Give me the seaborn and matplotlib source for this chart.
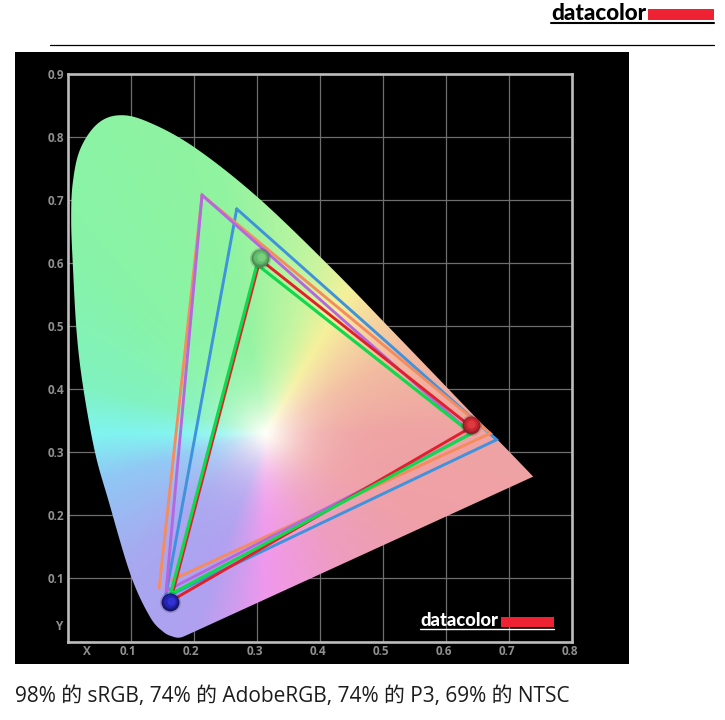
import matplotlib
matplotlib.use('Agg')
import matplotlib.pyplot as plt
from matplotlib.colors import to_rgb
from matplotlib.lines import Line2D
from matplotlib.patches import Polygon, Rectangle
from matplotlib.transforms import ScaledTranslation
import numpy as np
import seaborn as sns

W, H = 725, 720

# spectral locus
locus_x = [0.1886, 0.1780, 0.1674, 0.1515, 0.1304, 0.0998, 0.0644, 0.0433, 0.0247,
           0.0143, 0.0080, 0.0055, 0.0080, 0.0195, 0.0460, 0.0802, 0.1250, 0.1990, 0.2995, 0.4157,
           0.5125, 0.5752, 0.6270, 0.6658, 0.7000, 0.7380]
locus_y = [0.0100, 0.0062, 0.0075, 0.0154, 0.0392, 0.1054, 0.2243, 0.3000, 0.4020,
           0.4890, 0.6000, 0.6700, 0.7270, 0.7800, 0.8200, 0.8345, 0.8250, 0.7850, 0.7060, 0.5947,
           0.4950, 0.4300, 0.3760, 0.3360, 0.3010, 0.2615]

# gamut outlines
blue_x, blue_y = [0.268, 0.68, 0.155, 0.268], [0.686, 0.32, 0.07, 0.686]
orange_x, orange_y = [0.165, 0.67, 0.213, 0.145], [0.0975, 0.33, 0.708, 0.085]
purple_x, purple_y = [0.213, 0.64, 0.156, 0.213], [0.708, 0.33, 0.08, 0.708]
red_x, red_y = [0.305, 0.64, 0.163, 0.305], [0.606, 0.34, 0.064, 0.606]
green_x, green_y = [0.30, 0.64, 0.163, 0.30], [0.598, 0.33, 0.075, 0.598]

# primaries
ball_x = [0.6387, 0.3047, 0.1622]
ball_y = [0.3435, 0.608, 0.063]
ball_dark = ['#8a2028', '#4f8a55', '#14146a']
ball_edge = ['#aa232d', '#58a360', '#1c1c8e']
ball_mid = ['#c92632', '#62bd6c', '#2424b4']
ball_light = ['#dd3a3e', '#78cf7e', '#3232d4']

x_ticks = [0.1, 0.2, 0.3, 0.4, 0.5, 0.6, 0.7, 0.8]
y_ticks = [0.1, 0.2, 0.3, 0.4, 0.5, 0.6, 0.7, 0.8, 0.9]

# diagram colours around the white point
white_xy = (0.313, 0.33)
hue_angles = [-90, -60, -30, 0, 30, 48, 60, 75, 100, 135, 165, 180, 195, 225, 250, 270]
hue_colors = ['#F098EC', '#EE9CC0', '#EFA0A8', '#EFA3A3', '#F2BBA0', '#F5D8A0', '#F5F09A', '#C5F5A0',
              '#90F3A0', '#88F4A8', '#80F2C0', '#80F4F0', '#90C8F5', '#A8A8F0', '#B0A0F0', '#F098EC']

caption = '98% 的 sRGB, 74% 的 AdobeRGB, 74% 的 P3, 69% 的 NTSC'

sns.set_theme(style='white')
plt.rcParams['font.family'] = ['Open Sans', 'Noto Sans CJK TC', 'DejaVu Sans']


def fx(px):
    return px / W


def fy(py):
    return 1 - py / H


def smooth(xv, yv, n=16):
    # Catmull-Rom, only to draw the outline without corners
    p = np.column_stack([xv, yv])
    p = np.vstack([p[0], p, p[-1]])
    out = []
    for i in range(1, len(p) - 2):
        for u in np.linspace(0, 1, n, endpoint=False):
            out.append(0.5 * (2 * p[i] + (p[i + 1] - p[i - 1]) * u
                              + (2 * p[i - 1] - 5 * p[i] + 4 * p[i + 1] - p[i + 2]) * u ** 2
                              + (3 * p[i] - p[i - 1] - 3 * p[i + 1] + p[i + 2]) * u ** 3))
    out.append(p[-1])
    return np.array(out)


def logo(px_left, px_right, text_right, bar_top, bar_bottom, line_y, baseline, color, size, line_w):
    fig.text(fx(px_left), fy(baseline), 'datacolor', color=color, fontsize=size, fontweight='black',
             family='Lato', va='baseline', ha='left', zorder=10)
    fig.add_artist(Rectangle((fx(text_right), fy(bar_bottom)), fx(px_right - text_right),
                             (bar_bottom - bar_top) / H, color='#ee2233', lw=0, zorder=10))
    fig.add_artist(Line2D([fx(px_left), fx(px_right)], [fy(line_y), fy(line_y)], color=color, lw=line_w, zorder=10))


fig = plt.figure(figsize=(W / 100, H / 100), dpi=100, facecolor='white')

# black panel
fig.add_artist(Rectangle((fx(15), fy(664)), fx(614), 612 / H, color='black', lw=0, zorder=0))

ax = fig.add_axes([fx(67.7), fy(641.5), fx(572.3 - 67.7), (641.5 - 74) / H], facecolor='black', zorder=1)

# diagram fill
xs = np.linspace(0, 0.8, 800)
ys = np.linspace(0, 0.9, 900)
gx, gy = np.meshgrid(xs, ys)
dx, dy = gx - white_xy[0], gy - white_xy[1]
ang = np.degrees(np.arctan2(dy, dx))
ang[ang < -90] += 360
hue_rgb = np.array([to_rgb(c) for c in hue_colors])
img = np.dstack([np.interp(ang, hue_angles, hue_rgb[:, i]) for i in range(3)])
t = (1 - np.exp(-(np.hypot(dx, dy) / 0.06) ** 1.3))[..., None]
img = (1 - t) * np.array([1.0, 1.0, 0.97]) + t * img
im = ax.imshow(img, origin='lower', extent=(0, 0.8, 0, 0.9), aspect='auto', zorder=2, interpolation='bilinear')
im.set_clip_path(Polygon(smooth(locus_x, locus_y), closed=True, transform=ax.transData))

# gamut triangles
for lx, ly, col, lw in [(blue_x, blue_y, '#3f93dc', 2.1),
                        (orange_x, orange_y, '#f58c60', 2.1),
                        (purple_x, purple_y, '#b468e0', 2.1),
                        (red_x, red_y, '#e0202a', 2.1),
                        (green_x, green_y, '#12d84f', 2.3)]:
    sns.lineplot(x=lx, y=ly, sort=False, estimator=None, color=col, linewidth=lw, ax=ax,
                 legend=False, zorder=4, solid_joinstyle='miter')

# primaries as shaded balls
for bx, by, dark, edge, mid, light in zip(ball_x, ball_y, ball_dark, ball_edge, ball_mid, ball_light):
    sns.scatterplot(x=[bx], y=[by], s=230, color='black', alpha=0.15, linewidth=0, ax=ax, legend=False, zorder=5)
    sns.scatterplot(x=[bx], y=[by], s=165, color=dark, linewidth=0, ax=ax, legend=False, zorder=5)
    sns.scatterplot(x=[bx], y=[by + 0.001], s=125, color=edge, linewidth=0, ax=ax, legend=False, zorder=5)
    sns.scatterplot(x=[bx], y=[by + 0.001], s=85, color=mid, linewidth=0, ax=ax, legend=False, zorder=5)
    sns.scatterplot(x=[bx + 0.001], y=[by + 0.002], s=35, color=light, linewidth=0, ax=ax, legend=False, zorder=5)

ax.set_xlim(0, 0.8)
ax.set_ylim(0, 0.9)
ax.set_xticks(x_ticks)
ax.set_yticks(y_ticks)
ax.set_xticklabels(['%.1f' % v for v in x_ticks], color='#8f8f8f', fontsize=8.5, fontweight='bold', family='Open Sans')
ax.set_yticklabels(['%.1f' % v for v in y_ticks], color='#8f8f8f', fontsize=8.5, fontweight='bold', family='Open Sans')
ax.tick_params(axis='both', length=0, pad=2.5)
shift = ScaledTranslation(-2.5 / 100, 0, fig.dpi_scale_trans)
for lab in ax.get_xticklabels():
    lab.set_transform(lab.get_transform() + shift)
ax.set_xlabel('')
ax.set_ylabel('')
ax.grid(True, color='#6e6e6e', linewidth=0.9, zorder=1)
ax.set_axisbelow(True)
for s in ax.spines.values():
    s.set_color('#bdbdbd')
    s.set_linewidth(1.9)
    s.set_zorder(6)
ax.text(0.03, -0.0165, 'X', color='#8f8f8f', fontsize=8.5, fontweight='bold', ha='center', va='center', family='Open Sans')
ax.text(-0.0135, 0.0245, 'Y', color='#8f8f8f', fontsize=8.5, fontweight='bold', ha='center', va='center', family='Open Sans')

# logos and page furniture
logo(551, 714, 648, 9.3, 20, 23, 20, 'black', 16.2, 1.5)
logo(420, 554, 501, 617, 627, 629, 626, 'white', 13.2, 1.0)
fig.add_artist(Line2D([fx(50), fx(714)], [fy(44.5), fy(44.5)], color='black', lw=0.9))
fig.text(fx(15), fy(702), caption, color='#1c1c1c', fontsize=15.0, ha='left', va='baseline')

fig.savefig('out.png', dpi=100, facecolor='white')
